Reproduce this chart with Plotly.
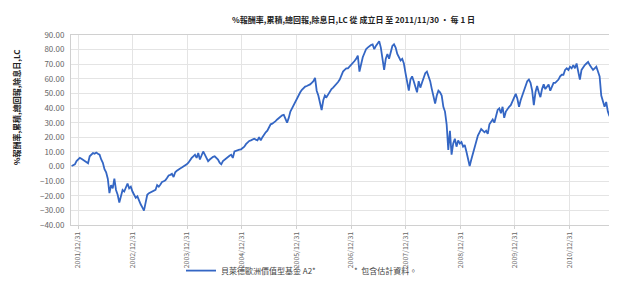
import pandas as pd
import plotly.graph_objects as go

values = [
    0.4, 0.9, 1.5, 3.7, 4.8, 5.9, 5.3, 4.4, 3.5, 2.6, 2.2, 7.0, 8.1, 9.2, 8.8, 9.6, 8.8, 8.1, 4.8, 2.6,
    -1.8, -3.9, -8.3, -18.2, -12.7, -14.9, -8.3, -16.0, -19.3, -24.7, -20.4, -16.0, -17.1, -14.9, -11.6, -14.9, -13.8, -17.1, -19.3, -21.4,
    -20.4, -23.6, -25.8, -28.0, -30.2, -24.7, -19.3, -18.2, -17.5, -17.1, -16.6, -16.0, -12.7, -13.8, -12.3, -10.5, -10.1, -9.4, -7.9, -6.1,
    -5.7, -5.0, -7.2, -3.9, -2.8, -1.8, -1.3, -0.7, 0.0, 0.4, 1.5, 2.6, 4.4, 5.9, 7.0, 8.1, 5.9, 9.2, 4.8, 8.1,
    10.3, 8.1, 5.9, 3.7, 4.8, 5.9, 6.6, 7.0, 5.9, 4.8, 2.6, 1.5, 3.7, 4.8, 5.9, 7.0, 7.4, 8.1, 5.9, 10.3,
    10.9, 11.4, 11.6, 11.8, 12.7, 13.6, 15.3, 16.8, 17.5, 17.9, 18.4, 19.0, 18.4, 17.9, 20.1, 17.9, 20.1, 22.3, 23.4, 24.5,
    26.7, 28.9, 29.3, 30.0, 31.1, 32.2, 33.3, 34.4, 35.0, 35.4, 32.2, 30.0, 33.3, 37.6, 39.8, 42.0, 44.6, 47.5, 49.0, 50.8,
    52.5, 54.0, 54.7, 55.1, 55.6, 56.2, 57.3, 58.4, 60.6, 51.9, 48.6, 44.2, 38.7, 45.3, 48.6, 47.5, 49.7, 51.9, 53.0, 54.0,
    55.1, 56.2, 57.8, 59.5, 62.1, 65.0, 66.1, 67.2,
    67.2, 68.3, 69.4, 70.5, 72.2, 73.7, 75.9, 65.0, 70.5, 74.8, 77.5, 80.3, 81.4, 82.5, 83.2, 83.6, 80.3, 82.5, 84.7, 85.8,
    81.4, 74.8, 66.1, 73.7, 77.0, 73.7, 78.1, 82.5, 83.6, 81.4, 77.0, 74.8, 72.6, 73.7, 70.5, 63.9, 56.2, 51.9, 59.5, 61.7,
    58.4, 55.1, 50.8, 58.4, 54.0, 57.3, 60.6, 63.9, 65.0, 61.7, 58.4, 53.0, 48.6, 43.1, 48.6, 51.9, 50.8, 48.6, 40.9, 37.6,
    28.9, 11.4, 24.5, 8.1, 15.8, 19.0, 13.6, 17.9, 15.8, 16.8, 13.6, 14.7, 10.3, 5.9, 0.4, 4.8, 9.2, 13.6, 16.8, 21.2,
    23.4, 25.6, 24.5, 23.4, 24.5, 22.3, 28.9, 31.1, 32.2, 30.0, 35.4, 38.7, 39.8, 36.5, 40.9, 33.3, 37.6, 39.8, 40.9, 42.0,
    44.2, 47.5, 49.7, 46.4, 40.9, 45.3, 48.6, 51.9, 55.1, 58.4, 59.5, 57.3, 51.9, 42.0, 50.8, 55.1, 50.8, 47.5, 53.0, 56.2,
    53.0, 55.1, 56.2, 51.9, 55.1, 57.3, 57.3, 58.4, 59.5, 61.7, 62.8, 62.8, 66.1, 67.2, 66.1, 68.3, 67.2, 69.4, 67.2, 70.5,
    65.0, 59.5, 66.1, 68.3, 69.4, 70.5, 71.6, 69.4, 67.2, 66.1, 67.2, 68.3, 65.0, 61.7, 48.6, 44.2, 40.9, 44.2, 37.6, 34.4,
    38.7, 44.2, 48.6, 47.5,
]
dates = pd.date_range("2001-11-18", periods=len(values), freq="11D")

tick_dates = ["2001-12-31", "2002-12-31", "2003-12-31", "2004-12-31", "2005-12-31",
              "2006-12-31", "2007-12-31", "2008-12-31", "2009-12-31", "2010-12-31", "2011-11-30"]
tick_labels = ["2001/12/31", "2002/12/31", "2003/12/31", "2004/12/31", "2005/12/31",
               "2006/12/31", "2007/12/31", "2008/12/31", "2009/12/31", "2010/12/31", "2011/11/30"]

series_name = "貝萊德歐洲價值型基金 A2*"
title_text = "%報酬率,累積,總回報,除息日,LC 從 成立日 至 2011/11/30 • 每 1 日"
y_title = "%報酬率,累積,總回報,除息日,LC"
footnote = "*  包含估計資料。"

FONT = "Noto Sans CJK TC"

fig = go.Figure()
fig.add_trace(go.Scatter(
    x=dates, y=values, mode="lines", name=series_name,
    line=dict(color="#3466c4", width=1.8),
))

fig.update_layout(
    width=617, height=281,
    margin=dict(l=63, r=4, t=27, b=56),
    paper_bgcolor="white", plot_bgcolor="white",
    font=dict(family=FONT, size=8, color="#555555"),
    title=dict(text=title_text, x=0.56, xanchor="center", y=0.955, yanchor="middle",
               font=dict(family=FONT, size=8, color="#222222", weight="bold")),
    showlegend=True,
    legend=dict(orientation="h", x=0.2, y=-0.24, xanchor="left", yanchor="middle",
                font=dict(family=FONT, size=8, color="#444444"), itemwidth=30,
                bgcolor="rgba(0,0,0,0)"),
    xaxis=dict(
        type="date", range=["2001-11-14", "2011-12-10"],
        tickvals=tick_dates, ticktext=tick_labels[:-1] + [""], tickangle=-90,
        tickfont=dict(family=FONT, size=7, color="#666666"),
        showgrid=True, gridcolor="#e4e4e4", gridwidth=1,
        showline=True, linecolor="#d0d0d0", mirror=True,
        ticks="outside", ticklen=3, tickcolor="#d0d0d0",
        zeroline=False,
    ),
    yaxis=dict(
        range=[-40, 90], dtick=10, tick0=0, tickformat=".2f",
        tickfont=dict(family=FONT, size=8, color="#666666"),
        showgrid=True, gridcolor="#e4e4e4", gridwidth=1,
        showline=True, linecolor="#d0d0d0", mirror=True,
        zeroline=False, ticks="", ticklabelstandoff=4,
    ),
    annotations=[
        dict(text=y_title, textangle=-90, x=-0.1, y=0.62, xref="paper", yref="paper",
             xanchor="center", yanchor="middle", showarrow=False,
             font=dict(family=FONT, size=8, color="#222222", weight="bold")),
        dict(text=footnote, x=0.51, y=-0.24, xref="paper", yref="paper",
             xanchor="left", yanchor="middle", showarrow=False,
             font=dict(family=FONT, size=8, color="#444444")),
        dict(text=tick_labels[-1], textangle=-90, x=tick_dates[-1], xref="x",
             y=-0.025, yref="paper", xanchor="center", yanchor="top", xshift=-3,
             showarrow=False, font=dict(family=FONT, size=7, color="#666666")),
    ],
)

fig.write_html("out.html")
